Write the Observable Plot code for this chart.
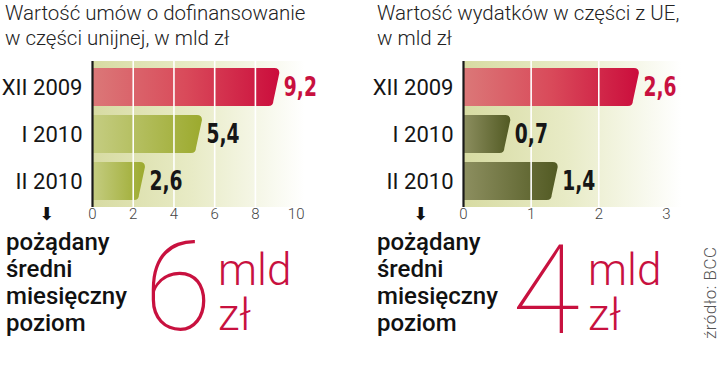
<!DOCTYPE html>
<html><head><meta charset="utf-8">
<script src="https://cdn.jsdelivr.net/npm/d3@7"></script>
<script src="https://cdn.jsdelivr.net/npm/@observablehq/plot@0.6"></script>
<style>
html,body{margin:0;padding:0;background:#fff;}
#root{position:relative;width:720px;height:365px;overflow:hidden;font-family:Roboto,"Noto Sans",sans-serif;color:#1a1a1a;}
.abs{position:absolute;white-space:nowrap;}
.title{font-size:20.5px;font-weight:300;line-height:25px;color:#222;}
.goal{font-size:24px;font-weight:500;line-height:27px;color:#111;}
.big{font-size:124px;font-weight:100;line-height:normal;color:#c8113f;}
.unit{font-size:44px;font-weight:300;line-height:normal;color:#c8113f;}
.arrow{font-size:18px;line-height:normal;font-family:"DejaVu Sans",sans-serif;color:#111;}
.src{font-size:17px;font-weight:300;letter-spacing:0.5px;line-height:normal;color:#555;transform:rotate(-90deg);transform-origin:left top;}
</style></head>
<body><div id="root"></div>
<script>
// ---- data ----
const categories = ["XII 2009", "I 2010", "II 2010"];
const contractValues = [9.2, 5.4, 2.6];
const spendingValues = [2.6, 0.7, 1.4];
const contractTicks = [0, 2, 4, 6, 8, 10];
const spendingTicks = [0, 1, 2, 3];
const titles = ["Wartość umów o dofinansowanie\nw części unijnej, w mld zł", "Wartość wydatków w części z UE,\nw mld zł"];
const goalLabel = ["pożądany", "średni", "miesięczny", "poziom"];
const targets = [6, 4];
const unitLines = ["mld", "zł"];
const source = "źródło: BCC";

const root = document.getElementById("root");
const fmt = v => String(v).replace(".", ",");
const valueFont = "'DejaVu Sans Condensed','Liberation Sans Narrow',sans-serif";

// turn Plot's rendered bar rects into bars with a rounded, slanted right end
function slantBars(index, scales, values, dimensions, context, next) {
  const g = next(index, scales, values, dimensions, context);
  d3.select(g).selectAll("rect").each(function () {
    const x = +this.getAttribute("x"), y = +this.getAttribute("y");
    const w = +this.getAttribute("width"), h = +this.getAttribute("height");
    const r = 5, s = Math.min(6, Math.max(0, w - 2 * r));
    const p = document.createElementNS("http://www.w3.org/2000/svg", "path");
    p.setAttribute("d", `M${x},${y}H${x + w - r}Q${x + w},${y} ${x + w},${y + r}L${x + w - s},${y + h - r}Q${x + w - s},${y + h} ${x + w - s - r},${y + h}H${x}Z`);
    for (const a of Array.from(this.attributes)) {
      if (!["x", "y", "width", "height", "rx", "ry"].includes(a.name)) p.setAttribute(a.name, a.value);
    }
    this.replaceWith(p);
  });
  return g;
}

function panel({values, ticks, xmax, left, width, marginLeft, marginRight, barGrad, id}) {
  const data = categories.map((c, i) => ({cat: c, v: values[i]}));
  const first = data.slice(0, 1), rest = data.slice(1);
  const grid = ticks.filter(t => t > 0 && t < ticks[ticks.length - 1]);
  const svg = Plot.plot({
    width, height: 175,
    marginLeft, marginRight, marginTop: 3, marginBottom: 26,
    x: {domain: [0, xmax], axis: null},
    y: {domain: categories, axis: null, paddingInner: 0.2, paddingOuter: 0.15},
    style: {fontFamily: "Roboto, sans-serif", background: "transparent", overflow: "visible"},
    marks: [
      Plot.barX([{a: 0, b: xmax}], {x1: "a", x2: "b", fill: `url(#bg${id})`}),
      Plot.barX(first, {x: "v", y: "cat", fill: `url(#red${id})`, rx: 5, render: slantBars}),
      Plot.barX(rest, {x: "v", y: "cat", fill: `url(#${barGrad}${id})`, rx: 5, render: slantBars}),
      Plot.ruleX(grid, {stroke: "#fff", strokeWidth: 1.6}),
      Plot.ruleX([0], {stroke: "#1a1a1a", strokeWidth: 2.2}),
      Plot.text(first, {x: "v", y: "cat", text: d => fmt(d.v), dx: 4, textAnchor: "start", fill: "#c8113f",
        fontSize: 26, fontWeight: "bold", fontFamily: valueFont}),
      Plot.text(rest, {x: "v", y: "cat", text: d => fmt(d.v), dx: 4, textAnchor: "start", fill: "#161616",
        fontSize: 26, fontWeight: "bold", fontFamily: valueFont}),
      Plot.text(categories, {y: d => d, text: d => d, frameAnchor: "left", dx: -10, textAnchor: "end",
        fontSize: 22, fontWeight: 400, fill: "#151515"}),
      Plot.text(ticks, {x: d => d, text: d => String(d), frameAnchor: "bottom", lineAnchor: "top", dy: 1,
        fontSize: 15, fontWeight: 300, fill: "#444"})
    ]
  });
  const defs = d3.select(svg).insert("defs", ":first-child");
  const lin = (name, stops) => {
    const g = defs.append("linearGradient").attr("id", name + id).attr("x1", 0).attr("x2", 1).attr("y1", 0).attr("y2", 0);
    stops.forEach(([o, c]) => g.append("stop").attr("offset", o).attr("stop-color", c));
  };
  lin("bg", [[0, "#d7dba2"], [0.45, "#e8ebc6"], [0.8, "#f8f9ee"], [0.95, "#ffffff"]]);
  lin("red", [[0, "#db7878"], [0.5, "#d94a5a"], [1, "#cb0d3c"]]);
  lin("lg", [[0, "#c5cd82"], [1, "#9caa2e"]]);
  lin("dg", [[0, "#8d8f60"], [1, "#525a23"]]);
  svg.style.position = "absolute";
  svg.style.left = left + "px";
  svg.style.top = "58px";
  root.appendChild(svg);
  // condense the bold value labels
  d3.select(svg).selectAll("g[font-family*='Condensed'] text").each(function () {
    const len = this.getComputedTextLength();
    if (len > 0) {
      this.setAttribute("textLength", (len * 0.8).toFixed(1));
      this.setAttribute("lengthAdjust", "spacingAndGlyphs");
    }
  });
}

panel({values: contractValues, ticks: contractTicks, xmax: 11, left: 0, width: 320, marginLeft: 92, marginRight: 4, barGrad: "lg", id: "L"});
panel({values: spendingValues, ticks: spendingTicks, xmax: 3.4, left: 370, width: 330, marginLeft: 93, marginRight: 7, barGrad: "dg", id: "R"});

function add(cls, text, left, top) {
  const d = document.createElement("div");
  d.className = "abs " + cls;
  d.style.left = left + "px"; d.style.top = top + "px";
  d.innerHTML = text.split("\n").join("<br>");
  root.appendChild(d);
  return d;
}
add("title", titles[0], 5, 1);
add("title", titles[1], 377, 1);
[0, 1].forEach(i => {
  const base = i === 0 ? 0 : 371;
  add("arrow", "⬇", i === 0 ? 39 : 413, 203);
  add("goal", goalLabel.join("\n"), 6 + base, 229);
  add("big", String(targets[i]), i === 0 ? 144 : 512, i === 0 ? 215 : 218);
  add("unit", unitLines[0], i === 0 ? 218 : 588, 244);
  add("unit", unitLines[1], i === 0 ? 218 : 588, 289);
});
add("src", source, 700, 339);
</script>
</body></html>
